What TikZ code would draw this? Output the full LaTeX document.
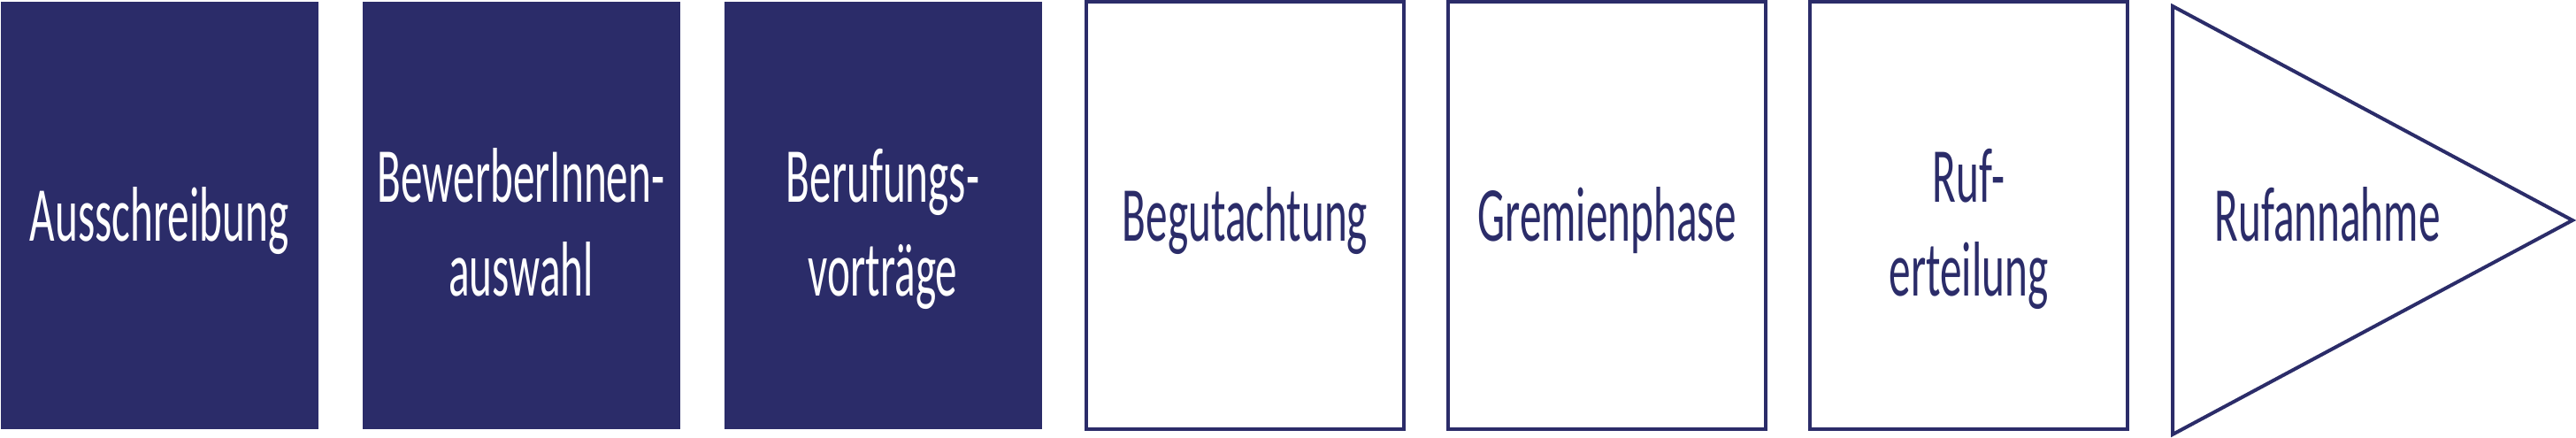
\documentclass[tikz,border=0pt]{standalone}
\usepackage{fontspec}
\newfontfamily\stagefont[FakeStretch=0.56]{Carlito}
\definecolor{hsNavy}{HTML}{2B2C69}
\usetikzlibrary{positioning}

\tikzset{
  stage/.style={rectangle, inner sep=0pt, align=center,
    minimum width=3.59cm, minimum height=4.83cm,
    font=\stagefont\fontsize{25pt}{30.2pt}\selectfont},
  donestage/.style={stage, fill=hsNavy, text=white},
  openstage/.style={stage, draw=hsNavy, line width=0.04cm, text=hsNavy},
  oneline/.style={text height=0.59cm, text depth=0cm},
  twoline/.style={text height=1.83cm, text depth=0cm}
}

\begin{document}
\begin{tikzpicture}
  \useasboundingbox (0,0) rectangle (29.12,4.95);
  % finished steps
  \node[donestage, oneline] (ausschreibung) at (1.80,2.515) {Ausschreibung};
  \node[donestage, twoline] (auswahl) at (5.89,2.515) {BewerberInnen-\\auswahl};
  \node[donestage, twoline] (vortraege) at (9.98,2.515) {Berufungs-\\vorträge};
  % open steps
  \node[openstage, oneline] (gutachten) at (14.075,2.515) {Begutachtung};
  \node[openstage, oneline] (gremien) at (18.165,2.515) {Gremienphase};
  \node[openstage, twoline] (ruf) at (22.255,2.515) {Ruf-\\erteilung};
  % last step as arrow head
  \draw[hsNavy, line width=0.04cm] (24.56,4.88) -- (29.08,2.46) -- (24.56,0.04) -- cycle;
  \node[stage, minimum width=0pt, minimum height=0pt, text=hsNavy, anchor=base] (annahme) at (26.31,2.22) {Rufannahme};
\end{tikzpicture}
\end{document}
